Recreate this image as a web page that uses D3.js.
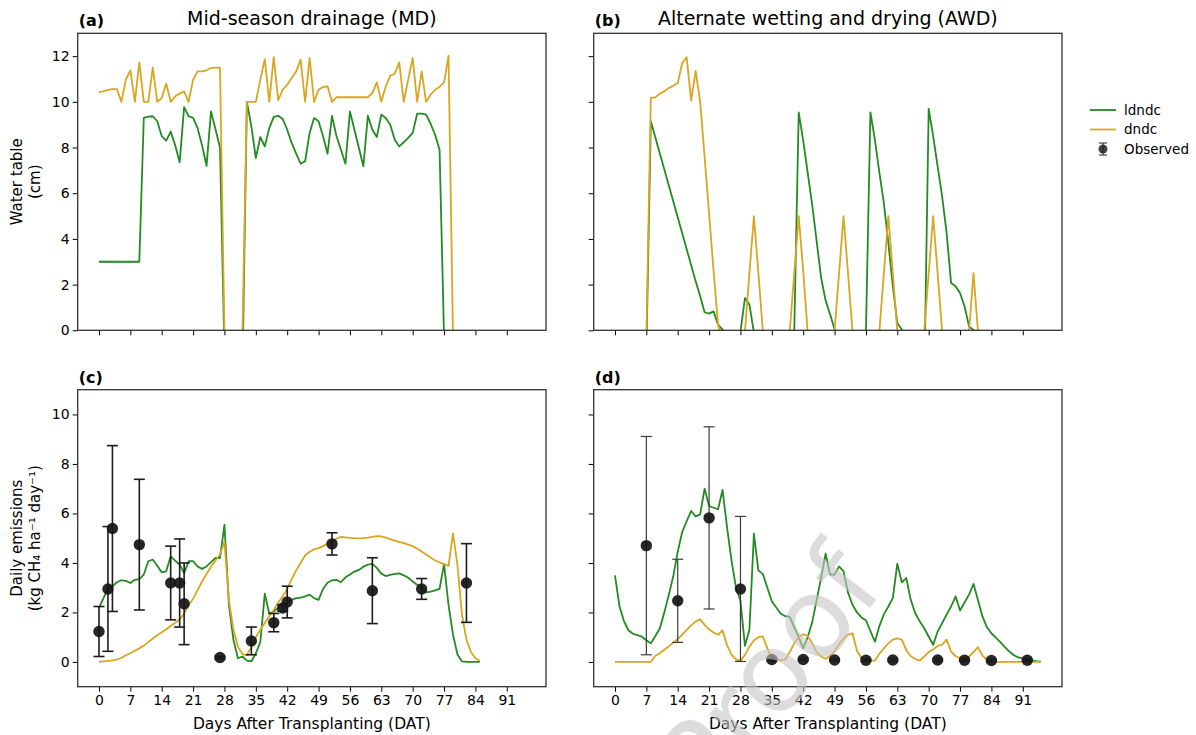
<!DOCTYPE html>
<html>
<head>
<meta charset="utf-8">
<script src="https://cdn.jsdelivr.net/npm/d3@7"></script>
<style>
  body { margin: 0; background: #fff; }
  svg text { font-family: "DejaVu Sans", sans-serif; fill: #000; }
</style>
</head>
<body>
<div id="chart"></div>
<script>
// ---------------------------- data ----------------------------
const X_TICKS = [0, 7, 14, 21, 28, 35, 42, 49, 56, 63, 70, 77, 84, 91];
const WT_TICKS = [0, 2, 4, 6, 8, 10, 12];
const EM_TICKS = [0, 2, 4, 6, 8, 10];

// water table (cm), one value per day from day 0; values below 0 are drained (clipped)
const mdWaterLdndc = [3.0, 3.0, 3.0, 3.0, 3.0, 3.0, 3.0, 3.0, 3.0, 3.0,
  9.3, 9.35, 9.37, 9.15, 8.5, 8.3, 8.7, 8.1, 7.35, 9.77,
  9.37, 9.3, 8.85, 8.1, 7.2, 9.58, 8.8, 8.0, -1, -3,
  -4, -4, -2, 10.0, 8.93, 7.54, 8.46, 8.05, 8.85, 9.34,
  9.39, 9.25, 8.78, 8.2, 7.73, 7.29, 7.4, 8.64, 9.29, 9.15,
  8.49, 7.73, 9.39, 8.49, 7.9, 7.29, 9.58, 8.78, 7.98, 7.18,
  9.39, 8.78, 8.46, 9.44, 9.29, 9.0, 8.34, 8.05, 8.23, 8.42,
  8.64, 9.48, 9.48, 9.44, 9.04, 8.56, 7.9, -0.3, -5, -5,
  -5, -5, -5, -5, -5, -5];
const mdWaterDndc = [10.42, 10.46, 10.52, 10.56, 10.56, 10.0, 10.97, 11.38, 10.0, 11.73,
  10.0, 10.0, 11.5, 10.0, 10.17, 10.8, 10.0, 10.24, 10.36, 10.46,
  10.0, 10.97, 11.33, 11.33, 11.38, 11.48, 11.5, 11.5, -0.2, -4,
  -5, -4, -0.3, 10.0, 10.0, 10.0, 10.97, 11.87, 10.0, 11.96,
  10.07, 10.53, 10.75, 11.04, 11.33, 11.85, 10.0, 11.92, 10.0, 10.53,
  10.65, 10.68, 10.0, 10.2, 10.2, 10.2, 10.2, 10.2, 10.2, 10.2,
  10.2, 10.39, 10.85, 10.0, 10.68, 11.15, 11.23, 11.73, 10.0, 10.97,
  11.92, 10.0, 11.33, 10.0, 10.31, 10.53, 10.65, 10.85, 12.02, -0.3,
  -5, -5, -5, -5, -5, -5];
const awdWaterLdndc = [-5, -5, -5, -5, -5, -5, -5, -1, 9.15, 8.45,
  7.75, 7.05, 6.35, 5.65, 4.95, 4.25, 3.55, 2.85, 2.15, 1.5,
  0.79, 0.73, 0.83, 0.25, 0.03, -0.5, -1, -1, -0.05, 1.41,
  1.12, -0.1, -1, -1, -1, -1, -1, -1, -1, -1,
  -0.05, 9.54, 8.3, 6.9, 5.5, 3.9, 2.3, 1.3, 0.7, 0.05,
  -0.5, -1, -1, -1, -1, -1, -0.05, 9.54, 8.34, 6.9,
  5.57, 3.82, 1.93, 0.32, 0.03, -0.5, -1, -1, -1, -2.5,
  9.69, 8.5, 7.18, 5.86, 4.26, 2.07, 1.93, 1.63, 1.05, 0.17,
  0.02, -0.5, -1, -1, -1, -1, -1, -1, -1, -1,
  -1, -1, -1, -1, -1, -1];
const awdWaterDndc = [-5, -5, -5, -5, -5, -5, -5, -0.3, 10.17, 10.2,
  10.36, 10.46, 10.6, 10.7, 10.82, 11.7, 11.95, 10.05, 11.36, 10.0,
  7.6, 5.1, 2.6, 0.25, -0.5, -1, -1, -1, -1, -0.05,
  2.5, 5.0, 2.5, -0.05, -1, -1, -1, -1, -1, -0.05,
  2.5, 5.0, 2.6, -0.1, -1, -1, -1, -1, -1, -0.05,
  2.5, 5.0, 2.5, -0.05, -1, -1, -1, -1, -1, -0.05,
  2.5, 5.0, 2.5, -0.05, -1, -1, -1, -1, -1, -0.05,
  2.5, 5.0, 2.5, -0.05, -1, -1, -1, -1, -1, -0.05,
  2.5, -0.05, -1, -1, -1, -1, -1, -1, -1, -1,
  -1, -1, -1, -1, -1, -1];

// daily CH4 emissions (kg CH4 ha-1 day-1), one value per day from day 0
const mdEmisLdndc = [2.18, 2.58, 2.95, 3.05, 3.22, 3.3, 3.28, 3.19, 3.32, 3.35,
  3.53, 4.07, 4.14, 3.89, 3.62, 3.66, 4.27, 4.09, 3.93, 3.59,
  4.07, 4.07, 3.86, 3.76, 3.86, 4.03, 4.2, 4.2, 5.55, 2.3,
  0.9, 0.15, 0.22, 0.05, 0.02, 0.35, 0.8, 2.76, 1.95, 2.04,
  2.18, 2.24, 2.38, 2.51, 2.58, 2.6, 2.65, 2.72, 2.58, 2.51,
  2.95, 3.2, 3.3, 3.32, 3.22, 3.42, 3.53, 3.65, 3.72, 3.85,
  3.93, 3.96, 3.8, 3.57, 3.47, 3.52, 3.56, 3.58, 3.5, 3.4,
  3.25, 3.12, 2.99, 2.81, 2.84, 2.89, 2.95, 3.95, 2.3, 1.1,
  0.3, 0.02, 0.0, 0.0, 0.0, 0.0];
const mdEmisDndc = [0.0, 0.02, 0.04, 0.06, 0.1, 0.17, 0.27, 0.35, 0.45, 0.55,
  0.66, 0.8, 0.95, 1.08, 1.2, 1.32, 1.45, 1.58, 1.72, 1.95,
  2.3, 2.55, 2.9, 3.25, 3.55, 3.85, 4.1, 4.34, 4.85, 2.5,
  1.3, 0.62, 0.32, 0.28, 0.6, 1.0, 1.3, 1.57, 1.85, 2.1,
  2.4, 2.65, 2.95, 3.35, 3.7, 4.0, 4.3, 4.45, 4.55, 4.6,
  4.68, 4.78, 4.88, 4.98, 5.05, 5.03, 5.01, 5.0, 4.99, 5.0,
  5.02, 5.05, 5.08, 5.07, 5.02, 4.96, 4.9, 4.85, 4.8, 4.74,
  4.68, 4.58, 4.46, 4.34, 4.22, 4.1, 4.02, 3.95, 3.88, 5.2,
  3.9, 1.9, 0.9, 0.4, 0.15, 0.05];
const awdEmisLdndc = [3.5, 2.25, 1.65, 1.28, 1.14, 1.08, 1.02, 0.88, 0.75, 1.05,
  1.35, 2.0, 2.7, 3.46, 4.45, 5.25, 5.69, 6.1, 5.88, 5.96,
  7.0, 6.3, 6.23, 6.17, 6.95, 5.45, 4.1, 3.0, 2.47, 0.65,
  1.3, 5.18, 3.7, 3.55, 3.0, 2.45, 2.2, 1.95, 1.85, 1.82,
  1.4, 1.0, 0.55, 1.0, 1.6, 2.5, 3.4, 4.38, 3.53, 3.53,
  3.86, 3.66, 2.8, 2.31, 2.0, 1.8, 1.68, 1.25, 0.82, 1.45,
  1.92, 2.24, 2.58, 3.97, 3.22, 3.39, 2.51, 1.97, 1.64, 1.36,
  1.03, 0.69, 1.23, 1.57, 1.91, 2.24, 2.65, 2.08, 2.4, 2.72,
  3.15, 2.5, 1.84, 1.4, 1.16, 0.98, 0.8, 0.6, 0.42, 0.27,
  0.18, 0.14, 0.09, 0.06, 0.03, 0.01];
const awdEmisDndc = [0, 0, 0, 0, 0, 0, 0, 0, 0, 0.25,
  0.35, 0.49, 0.63, 0.78, 0.93, 1.1, 1.3, 1.48, 1.63, 1.73,
  1.5, 1.32, 1.19, 1.1, 1.27, 0.68, 0.3, 0.1, 0.04, 0.28,
  0.62, 0.87, 1.0, 1.03, 0.55, 0.15, 0.1, 0.05, 0.1, 0.4,
  0.75, 1.0, 1.12, 1.05, 0.75, 0.4, 0.22, 0.13, 0.25, 0.42,
  0.72, 0.95, 1.1, 1.16, 0.45, 0.15, 0.08, 0.06, 0.05, 0.33,
  0.55, 0.75, 0.9, 0.95, 0.9, 0.48, 0.23, 0.12, 0.05, 0.22,
  0.4, 0.5, 0.65, 0.7, 0.9, 0.42, 0.24, 0.15, 0.11, 0.22,
  0.4, 0.6, 0.25, 0.1, 0.02, 0, 0, 0, 0, 0,
  0, 0, 0, 0, 0, 0];

// observed emissions: day, mean, standard deviation
const mdObsDay = [0, 2, 3, 9, 16, 18, 19, 27, 34, 39, 41, 42, 52, 61, 72, 82];
const mdObsMean = [1.23, 2.95, 5.39, 4.74, 3.19, 3.19, 2.35, 0.18, 0.85, 1.59, 2.18, 2.42, 4.77, 2.88, 2.95, 3.19];
const mdObsSd = [1.01, 2.52, 3.35, 2.64, 1.49, 1.78, 1.65, 0.05, 0.56, 0.37, 0.13, 0.64, 0.45, 1.33, 0.42, 1.59];
const awdObsDay = [7, 14, 21, 28, 35, 42, 49, 56, 62, 72, 78, 84, 92];
const awdObsMean = [4.7, 2.47, 5.82, 2.95, 0.1, 0.1, 0.08, 0.07, 0.08, 0.08, 0.07, 0.06, 0.07];
const awdObsSd = [4.41, 1.68, 3.68, 2.93, 0.05, 0.05, 0.05, 0.05, 0.05, 0.05, 0.05, 0.05, 0.05];

const SERIES_NAMES = ["ldndc", "dndc", "Observed"];

// ---------------------------- setup ----------------------------
const W = 1196, H = 735;
const GREEN = "#228b22", GOLD = "#daa520";
const PW = 468.3, PH = 297;
const COLS = [77.7, 593.7];
const ROWS = [33.3, 389.7];
const TICK_FONT = "14px";

const svg = d3.select("#chart").append("svg")
  .attr("width", W).attr("height", H);

function toPoints(vals) {
  return vals.map((v, i) => ({day: i, v}));
}

function drawPanel(o) {
  const x = d3.scaleLinear().domain([-4.75, 99.75]).range([o.x0, o.x0 + PW]);
  const y = d3.scaleLinear().domain(o.yDomain).range([o.y0 + PH, o.y0]);
  const g = svg.append("g");

  g.append("clipPath").attr("id", o.id)
    .append("rect").attr("x", o.x0).attr("y", o.y0).attr("width", PW).attr("height", PH);

  // ---- axes
  const xAxis = d3.axisBottom(x).tickValues(X_TICKS).tickSize(5).tickPadding(3);
  if (!o.showX) xAxis.tickFormat("");
  const yAxis = d3.axisLeft(y).tickValues(o.yTicks).tickSize(5).tickPadding(3);
  if (!o.showY) yAxis.tickFormat("");

  g.append("g").attr("transform", `translate(0,${o.y0 + PH})`).call(xAxis)
    .call(a => a.select(".domain").remove())
    .call(a => a.selectAll("text").style("font-size", TICK_FONT).attr("fill", "#000"));
  g.append("g").attr("transform", `translate(${o.x0},0)`).call(yAxis)
    .call(a => a.select(".domain").remove())
    .call(a => a.selectAll("text").style("font-size", TICK_FONT).attr("fill", "#000"));

  // ---- model lines
  const line = d3.line().x(d => x(d.day)).y(d => y(d.v));
  const lines = g.append("g").attr("clip-path", `url(#${o.id})`);
  o.series.forEach(s => {
    lines.append("path")
      .datum(toPoints(s.values))
      .attr("d", line)
      .attr("fill", "none")
      .attr("stroke", s.color)
      .attr("stroke-width", 1.8)
      .attr("stroke-linejoin", "round");
  });

  // ---- observations
  if (o.obs) {
    const obs = o.obs.day.map((d, i) => ({day: d, v: o.obs.mean[i], sd: o.obs.sd[i]}));
    const eb = g.append("g").attr("stroke", o.obs.color).attr("stroke-width", o.obs.width);
    eb.selectAll(".bar").data(obs).enter().append("line")
      .attr("x1", d => x(d.day)).attr("x2", d => x(d.day))
      .attr("y1", d => y(d.v - d.sd)).attr("y2", d => y(d.v + d.sd));
    eb.selectAll(".capTop").data(obs).enter().append("line")
      .attr("x1", d => x(d.day) - 5.5).attr("x2", d => x(d.day) + 5.5)
      .attr("y1", d => y(d.v + d.sd)).attr("y2", d => y(d.v + d.sd));
    eb.selectAll(".capBot").data(obs).enter().append("line")
      .attr("x1", d => x(d.day) - 5.5).attr("x2", d => x(d.day) + 5.5)
      .attr("y1", d => y(d.v - d.sd)).attr("y2", d => y(d.v - d.sd));
    g.append("g").selectAll("circle").data(obs).enter().append("circle")
      .attr("cx", d => x(d.day)).attr("cy", d => y(d.v))
      .attr("r", 5.7)
      .attr("fill", "#151515")
      .attr("fill-opacity", 0.92);
  }

  // ---- frame
  g.append("rect")
    .attr("x", o.x0).attr("y", o.y0).attr("width", PW).attr("height", PH)
    .attr("fill", "none").attr("stroke", "#333").attr("stroke-width", 1.3);

  // ---- panel letter and title
  g.append("text").attr("x", o.x0 + 1).attr("y", o.y0 - 7)
    .style("font-size", "16px").style("font-weight", "bold").text(o.letter);
  if (o.title) {
    g.append("text").attr("x", o.x0 + PW / 2).attr("y", o.y0 - 8)
      .attr("text-anchor", "middle").style("font-size", "19px").text(o.title);
  }
  if (o.xLabel) {
    g.append("text").attr("x", o.x0 + PW / 2).attr("y", o.y0 + PH + 42)
      .attr("text-anchor", "middle").style("font-size", "15.5px").text(o.xLabel);
  }
  if (o.yLabel) {
    o.yLabel.forEach((t, i) => {
      g.append("text")
        .attr("transform", `translate(${22 + i * 17.5},${o.y0 + PH / 2}) rotate(-90)`)
        .attr("text-anchor", "middle").style("font-size", "15px").text(t);
    });
  }
  return {x, y};
}

const WT_DOMAIN = [0, 13];
const EM_DOMAIN = [-1, 11];

drawPanel({id: "clipA", x0: COLS[0], y0: ROWS[0], yDomain: WT_DOMAIN, yTicks: WT_TICKS,
  showX: false, showY: true, letter: "(a)", title: "Mid-season drainage (MD)",
  yLabel: ["Water table", "(cm)"],
  series: [{values: mdWaterLdndc, color: GREEN}, {values: mdWaterDndc, color: GOLD}]});

drawPanel({id: "clipB", x0: COLS[1], y0: ROWS[0], yDomain: WT_DOMAIN, yTicks: WT_TICKS,
  showX: false, showY: false, letter: "(b)", title: "Alternate wetting and drying (AWD)",
  series: [{values: awdWaterLdndc, color: GREEN}, {values: awdWaterDndc, color: GOLD}]});

drawPanel({id: "clipC", x0: COLS[0], y0: ROWS[1], yDomain: EM_DOMAIN, yTicks: EM_TICKS,
  showX: true, showY: true, letter: "(c)", xLabel: "Days After Transplanting (DAT)",
  yLabel: ["Daily emissions", "(kg CH\u2084 ha\u207B\u00B9 day\u207B\u00B9)"],
  series: [{values: mdEmisLdndc, color: GREEN}, {values: mdEmisDndc, color: GOLD}],
  obs: {day: mdObsDay, mean: mdObsMean, sd: mdObsSd, color: "#1c1c1c", width: 1.6}});

drawPanel({id: "clipD", x0: COLS[1], y0: ROWS[1], yDomain: EM_DOMAIN, yTicks: EM_TICKS,
  showX: true, showY: false, letter: "(d)", xLabel: "Days After Transplanting (DAT)",
  series: [{values: awdEmisLdndc, color: GREEN}, {values: awdEmisDndc, color: GOLD}],
  obs: {day: awdObsDay, mean: awdObsMean, sd: awdObsSd, color: "#3a3a3a", width: 1.2}});

// ---------------------------- legend ----------------------------
const legend = svg.append("g").attr("transform", "translate(1090,110)");
SERIES_NAMES.forEach((name, i) => {
  const row = legend.append("g").attr("transform", `translate(0,${i * 19.5})`);
  if (i < 2) {
    row.append("line").attr("x1", 0).attr("x2", 26).attr("y1", 0).attr("y2", 0)
      .attr("stroke", i === 0 ? GREEN : GOLD).attr("stroke-width", 1.8);
  } else {
    row.append("line").attr("x1", 13).attr("x2", 13).attr("y1", -6).attr("y2", 6)
      .attr("stroke", "#444").attr("stroke-width", 1.2);
    row.append("line").attr("x1", 9).attr("x2", 17).attr("y1", -6).attr("y2", -6)
      .attr("stroke", "#444").attr("stroke-width", 1.2);
    row.append("line").attr("x1", 9).attr("x2", 17).attr("y1", 6).attr("y2", 6)
      .attr("stroke", "#444").attr("stroke-width", 1.2);
    row.append("circle").attr("cx", 13).attr("cy", 0).attr("r", 4.5)
      .attr("fill", "#222").attr("fill-opacity", 0.85);
  }
  row.append("text").attr("x", 34).attr("y", 0).attr("dy", "0.35em")
    .style("font-size", "13.5px").text(name);
});

// ---------------------------- watermark ----------------------------
svg.append("text")
  .attr("transform", "translate(768,675) rotate(-52)")
  .attr("text-anchor", "middle")
  .attr("dominant-baseline", "central")
  .style("font-size", "112px")
  .style("fill", "#c4c4c4")
  .style("fill-opacity", 0.6)
  .text("Proof");
</script>
</body>
</html>
